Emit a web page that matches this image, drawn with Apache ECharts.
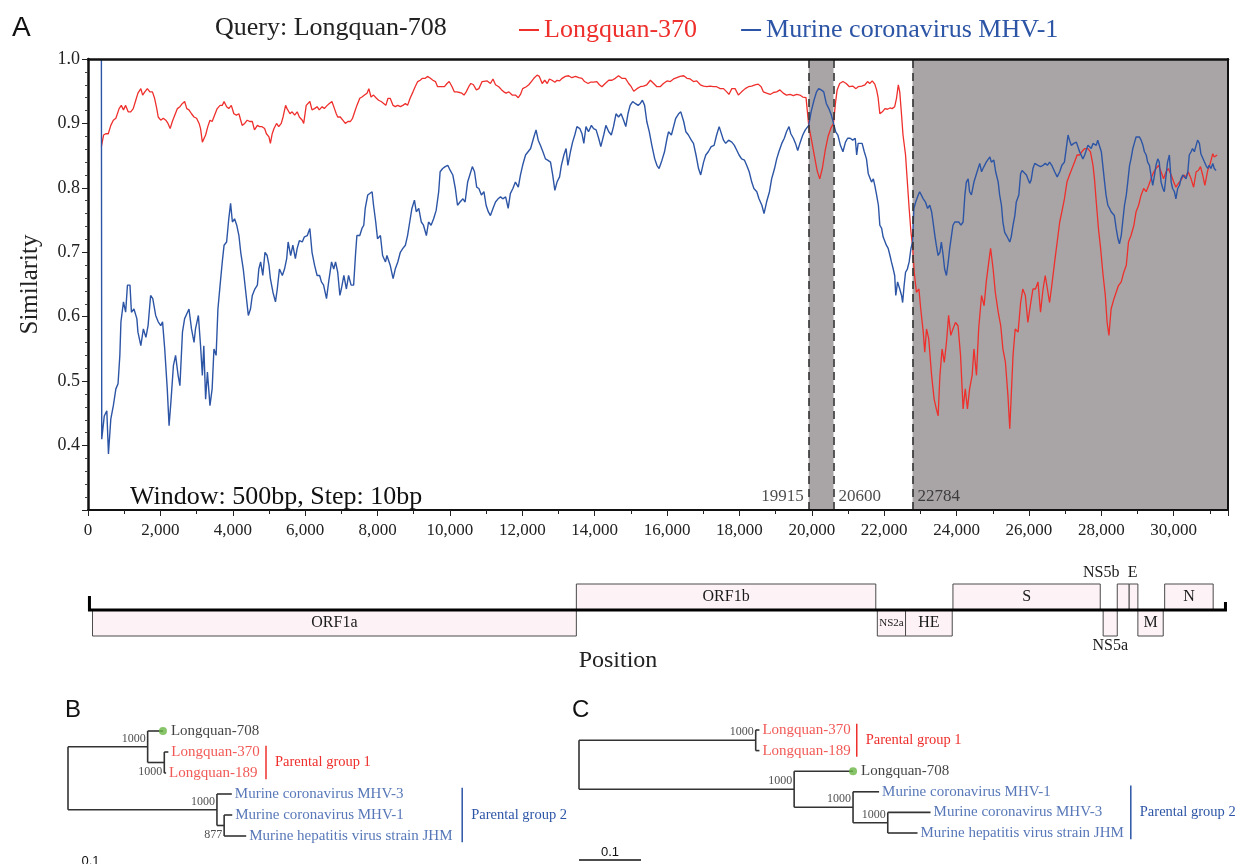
<!DOCTYPE html>
<html>
<head>
<meta charset="utf-8">
<script src="https://cdn.jsdelivr.net/npm/echarts@6/dist/echarts.min.js"></script>
<style>
  html, body { margin: 0; padding: 0; background: #fff; }
  #chart { width: 1237px; height: 864px; }
</style>
</head>
<body>
<div id="chart"></div>
<script>
// similarity traces: [position (bp), similarity]
const longquan370 = [
  [370,0.864],[430,0.882],[490,0.884],[560,0.884],[630,0.897],[700,0.905],[770,0.908],[860,0.923],[920,0.928],[980,0.921],
  [1040,0.928],[1110,0.918],[1180,0.918],[1250,0.923],[1320,0.936],[1380,0.947],[1460,0.954],[1510,0.944],[1570,0.949],[1640,0.954],
  [1710,0.949],[1780,0.949],[1840,0.939],[1900,0.923],[1940,0.91],[2010,0.905],[2080,0.908],[2150,0.905],[2210,0.9],[2270,0.892],
  [2330,0.903],[2400,0.913],[2470,0.923],[2540,0.926],[2610,0.931],[2670,0.934],[2730,0.923],[2790,0.921],[2860,0.915],[2930,0.91],
  [3000,0.908],[3070,0.9],[3110,0.892],[3160,0.871],[3200,0.869],[3250,0.882],[3310,0.895],[3370,0.905],[3430,0.903],[3500,0.913],
  [3570,0.923],[3650,0.928],[3710,0.928],[3760,0.934],[3830,0.926],[3890,0.923],[3960,0.928],[4030,0.915],[4100,0.913],[4170,0.915],
  [4220,0.905],[4260,0.897],[4330,0.9],[4400,0.905],[4470,0.903],[4540,0.903],[4600,0.89],[4680,0.897],[4740,0.895],[4810,0.895],
  [4880,0.892],[4930,0.884],[5000,0.879],[5040,0.869],[5090,0.884],[5140,0.892],[5210,0.9],[5270,0.895],[5340,0.9],[5390,0.91],
  [5460,0.928],[5500,0.923],[5580,0.915],[5640,0.918],[5710,0.913],[5780,0.918],[5840,0.91],[5920,0.905],[5960,0.9],[6030,0.928],
  [6080,0.931],[6130,0.934],[6190,0.921],[6260,0.923],[6330,0.926],[6390,0.921],[6470,0.926],[6530,0.923],[6610,0.928],[6670,0.931],
  [6740,0.934],[6810,0.923],[6860,0.915],[6900,0.91],[6970,0.91],[7040,0.905],[7110,0.9],[7180,0.903],[7250,0.903],[7310,0.908],
  [7370,0.918],[7430,0.928],[7510,0.939],[7570,0.941],[7640,0.944],[7710,0.947],[7760,0.954],[7820,0.941],[7890,0.944],[7970,0.939],
  [8030,0.936],[8100,0.934],[8170,0.931],[8230,0.928],[8290,0.939],[8350,0.939],[8430,0.928],[8490,0.926],[8560,0.928],[8630,0.926],
  [8700,0.928],[8770,0.931],[8830,0.928],[8900,0.939],[8980,0.949],[9040,0.957],[9110,0.965],[9180,0.967],[9240,0.97],[9320,0.97],
  [9380,0.973],[9460,0.97],[9530,0.967],[9600,0.965],[9660,0.957],[9710,0.954],[9780,0.957],[9850,0.957],[9920,0.962],[9980,0.965],
  [10060,0.957],[10120,0.949],[10190,0.949],[10270,0.948],[10330,0.947],[10390,0.944],[10450,0.949],[10520,0.957],[10580,0.962],[10650,0.96],
  [10730,0.952],[10800,0.954],[10890,0.965],[11030,0.966],[11120,0.962],[11190,0.969],[11260,0.96],[11350,0.957],[11430,0.952],[11490,0.949],
  [11550,0.947],[11630,0.949],[11720,0.944],[11810,0.944],[11890,0.94],[11950,0.945],[12010,0.954],[12110,0.957],[12180,0.96],[12250,0.965],
  [12320,0.97],[12410,0.975],[12470,0.973],[12550,0.962],[12620,0.967],[12690,0.962],[12750,0.969],[12820,0.967],[12900,0.964],[12960,0.967],
  [13030,0.966],[13100,0.97],[13190,0.973],[13280,0.974],[13370,0.971],[13470,0.973],[13560,0.971],[13650,0.97],[13720,0.965],[13820,0.962],
  [13880,0.964],[13970,0.964],[14060,0.965],[14130,0.96],[14200,0.957],[14290,0.962],[14390,0.967],[14480,0.967],[14570,0.97],[14660,0.974],
  [14750,0.97],[14850,0.97],[14940,0.962],[15010,0.957],[15080,0.95],[15170,0.954],[15260,0.957],[15350,0.958],[15440,0.96],[15540,0.967],
  [15630,0.962],[15720,0.957],[15810,0.957],[15900,0.962],[16000,0.966],[16090,0.965],[16180,0.969],[16270,0.971],[16360,0.973],[16460,0.974],
  [16550,0.97],[16640,0.969],[16730,0.965],[16820,0.966],[16920,0.96],[17010,0.958],[17100,0.957],[17190,0.958],[17280,0.957],[17370,0.957],
  [17470,0.954],[17560,0.954],[17650,0.949],[17710,0.945],[17790,0.954],[17880,0.954],[17970,0.944],[18060,0.949],[18160,0.954],[18250,0.957],
  [18340,0.958],[18430,0.96],[18520,0.961],[18600,0.957],[18660,0.949],[18750,0.947],[18850,0.945],[18940,0.948],[19030,0.949],[19120,0.952],
  [19210,0.947],[19300,0.944],[19400,0.945],[19490,0.943],[19580,0.945],[19670,0.944],[19750,0.941],[19840,0.94],[19915,0.897],[19990,0.875],
  [20070,0.85],[20150,0.826],[20220,0.814],[20290,0.83],[20370,0.858],[20450,0.88],[20530,0.893],[20600,0.9],[20650,0.93],[20700,0.952],
  [20770,0.962],[20860,0.965],[20950,0.962],[21040,0.957],[21130,0.958],[21220,0.954],[21280,0.957],[21380,0.958],[21470,0.96],[21540,0.965],
  [21600,0.962],[21670,0.966],[21740,0.961],[21790,0.952],[21830,0.941],[21880,0.915],[21950,0.918],[22020,0.923],[22090,0.922],[22160,0.924],
  [22220,0.923],[22290,0.926],[22340,0.939],[22390,0.96],[22430,0.949],[22480,0.913],[22520,0.882],[22590,0.851],[22640,0.809],[22690,0.768],
  [22740,0.731],[22784,0.71],[22830,0.669],[22890,0.638],[22960,0.643],[23010,0.612],[23080,0.576],[23120,0.545],[23170,0.581],[23230,0.566],
  [23310,0.509],[23380,0.472],[23440,0.457],[23490,0.446],[23540,0.509],[23600,0.55],[23660,0.529],[23720,0.56],[23780,0.602],[23840,0.571],
  [23900,0.581],[23970,0.591],[24040,0.586],[24110,0.54],[24180,0.457],[24240,0.488],[24300,0.457],[24360,0.488],[24430,0.509],[24480,0.55],
  [24550,0.509],[24610,0.581],[24690,0.633],[24760,0.617],[24820,0.654],[24890,0.685],[24940,0.706],[25010,0.674],[25070,0.638],[25150,0.607],
  [25220,0.586],[25280,0.55],[25350,0.529],[25420,0.477],[25470,0.426],[25510,0.477],[25560,0.54],[25620,0.581],[25700,0.576],[25770,0.622],
  [25830,0.643],[25900,0.633],[25970,0.591],[26050,0.622],[26110,0.643],[26180,0.643],[26250,0.654],[26320,0.607],[26390,0.643],[26450,0.664],
  [26510,0.643],[26570,0.622],[26630,0.648],[26710,0.685],[26780,0.716],[26850,0.747],[26910,0.763],[26980,0.783],[27050,0.809],[27120,0.82],
  [27190,0.83],[27260,0.84],[27330,0.851],[27400,0.851],[27460,0.856],[27540,0.861],[27630,0.861],[27700,0.856],[27770,0.835],[27810,0.814],
  [27860,0.778],[27920,0.737],[27980,0.706],[28040,0.669],[28110,0.633],[28160,0.591],[28210,0.571],[28270,0.612],[28350,0.628],[28410,0.638],
  [28470,0.648],[28550,0.654],[28620,0.669],[28690,0.68],[28750,0.716],[28820,0.726],[28900,0.742],[28960,0.763],[29030,0.773],[29100,0.789],
  [29170,0.799],[29240,0.794],[29310,0.804],[29370,0.814],[29450,0.825],[29510,0.83],[29580,0.835],[29650,0.825],[29720,0.814],[29790,0.825],
  [29850,0.83],[29930,0.82],[30000,0.809],[30060,0.801],[30130,0.807],[30200,0.812],[30280,0.82],[30340,0.817],[30400,0.825],[30480,0.814],
  [30550,0.801],[30620,0.825],[30680,0.827],[30740,0.833],[30800,0.82],[30860,0.804],[30940,0.827],[31010,0.838],[31080,0.853],[31120,0.848],
  [31200,0.851]
];

const mhv1 = [
  [370,1.0],[380,0.41],[400,0.407],[450,0.446],[520,0.454],[565,0.387],[630,0.441],[700,0.462],[770,0.488],[830,0.496],
  [880,0.54],[910,0.592],[980,0.623],[1040,0.607],[1090,0.649],[1160,0.649],[1200,0.607],[1270,0.612],[1350,0.597],[1380,0.576],
  [1460,0.555],[1530,0.581],[1600,0.568],[1660,0.586],[1730,0.633],[1790,0.628],[1870,0.602],[1940,0.592],[2010,0.586],[2060,0.592],
  [2120,0.55],[2190,0.488],[2240,0.431],[2290,0.467],[2360,0.524],[2420,0.54],[2490,0.509],[2540,0.493],[2610,0.576],[2670,0.597],
  [2750,0.607],[2790,0.612],[2860,0.581],[2930,0.56],[2970,0.581],[3050,0.602],[3110,0.555],[3160,0.509],[3200,0.555],[3250,0.472],
  [3300,0.514],[3370,0.462],[3430,0.488],[3480,0.55],[3540,0.54],[3590,0.612],[3650,0.649],[3710,0.685],[3760,0.711],[3830,0.716],
  [3890,0.752],[3940,0.776],[3990,0.747],[4050,0.752],[4110,0.742],[4170,0.726],[4220,0.7],[4290,0.674],[4350,0.643],[4430,0.602],
  [4490,0.612],[4540,0.633],[4610,0.643],[4680,0.649],[4720,0.674],[4770,0.685],[4830,0.664],[4890,0.7],[4950,0.695],[5000,0.68],
  [5040,0.659],[5110,0.638],[5180,0.623],[5230,0.643],[5290,0.674],[5370,0.664],[5430,0.674],[5490,0.69],[5530,0.716],[5600,0.695],
  [5660,0.711],[5730,0.69],[5780,0.706],[5840,0.718],[5920,0.716],[5980,0.724],[6060,0.726],[6130,0.737],[6190,0.7],[6260,0.68],
  [6330,0.664],[6400,0.664],[6450,0.654],[6510,0.649],[6590,0.628],[6650,0.654],[6730,0.685],[6790,0.674],[6840,0.685],[6900,0.669],
  [6960,0.633],[7000,0.643],[7070,0.664],[7140,0.643],[7200,0.664],[7270,0.649],[7340,0.649],[7390,0.695],[7430,0.726],[7510,0.726],
  [7570,0.737],[7620,0.742],[7660,0.768],[7730,0.789],[7780,0.789],[7850,0.794],[7890,0.773],[7950,0.747],[8000,0.721],[8080,0.726],
  [8140,0.695],[8220,0.685],[8260,0.695],[8350,0.68],[8430,0.659],[8490,0.674],[8560,0.685],[8630,0.7],[8700,0.706],[8770,0.711],
  [8830,0.726],[8890,0.747],[8950,0.768],[9020,0.781],[9070,0.763],[9140,0.768],[9210,0.747],[9270,0.742],[9350,0.726],[9410,0.747],
  [9480,0.742],[9550,0.752],[9620,0.765],[9690,0.794],[9730,0.825],[9800,0.83],[9870,0.833],[9940,0.835],[10010,0.827],[10080,0.82],
  [10150,0.799],[10210,0.773],[10280,0.778],[10360,0.783],[10420,0.778],[10490,0.809],[10550,0.82],[10620,0.833],[10680,0.825],[10740,0.801],
  [10800,0.799],[10870,0.789],[10940,0.794],[11000,0.773],[11060,0.763],[11120,0.757],[11190,0.768],[11260,0.778],[11330,0.783],[11400,0.786],
  [11460,0.783],[11540,0.786],[11610,0.768],[11670,0.791],[11740,0.799],[11810,0.809],[11890,0.801],[11950,0.82],[12010,0.835],[12090,0.851],
  [12160,0.856],[12230,0.861],[12320,0.879],[12380,0.89],[12440,0.874],[12500,0.866],[12570,0.856],[12640,0.845],[12700,0.843],[12780,0.84],
  [12840,0.82],[12900,0.796],[12960,0.809],[13030,0.817],[13080,0.835],[13150,0.851],[13210,0.861],[13260,0.835],[13330,0.856],[13390,0.871],
  [13450,0.882],[13510,0.895],[13590,0.892],[13650,0.884],[13700,0.869],[13760,0.895],[13830,0.887],[13910,0.897],[13970,0.892],[14040,0.89],
  [14110,0.877],[14170,0.864],[14250,0.882],[14310,0.897],[14390,0.887],[14460,0.882],[14520,0.895],[14590,0.915],[14660,0.91],[14730,0.915],
  [14800,0.905],[14860,0.895],[14920,0.915],[14980,0.928],[15050,0.934],[15120,0.931],[15200,0.928],[15260,0.931],[15320,0.936],[15380,0.928],
  [15440,0.903],[15510,0.887],[15580,0.866],[15660,0.845],[15720,0.835],[15780,0.83],[15860,0.843],[15930,0.856],[16000,0.877],[16040,0.887],
  [16120,0.882],[16180,0.895],[16240,0.908],[16320,0.915],[16380,0.918],[16460,0.903],[16520,0.887],[16590,0.882],[16670,0.874],[16730,0.869],
  [16800,0.851],[16870,0.83],[16930,0.82],[17010,0.84],[17070,0.851],[17140,0.856],[17220,0.864],[17300,0.866],[17370,0.882],[17440,0.895],
  [17490,0.895],[17560,0.874],[17620,0.869],[17700,0.874],[17790,0.871],[17860,0.866],[17930,0.858],[17990,0.851],[18060,0.845],[18140,0.843],
  [18200,0.835],[18270,0.825],[18340,0.809],[18400,0.799],[18480,0.794],[18540,0.783],[18620,0.773],[18680,0.76],[18750,0.778],[18830,0.794],
  [18890,0.814],[18970,0.83],[19030,0.845],[19090,0.856],[19170,0.869],[19240,0.877],[19300,0.887],[19370,0.895],[19420,0.884],[19490,0.877],
  [19550,0.869],[19610,0.858],[19670,0.869],[19750,0.882],[19820,0.89],[19915,0.897],[19980,0.918],[20060,0.936],[20130,0.949],[20190,0.954],
  [20260,0.952],[20330,0.949],[20400,0.931],[20470,0.923],[20540,0.913],[20600,0.9],[20660,0.887],[20720,0.882],[20790,0.866],[20860,0.856],
  [20930,0.871],[20990,0.877],[21060,0.877],[21130,0.874],[21200,0.877],[21240,0.851],[21280,0.869],[21330,0.866],[21390,0.869],[21450,0.856],
  [21510,0.845],[21560,0.822],[21610,0.82],[21650,0.809],[21700,0.814],[21740,0.804],[21790,0.789],[21840,0.773],[21880,0.742],[21930,0.737],
  [21970,0.724],[22020,0.726],[22060,0.711],[22110,0.706],[22160,0.695],[22200,0.685],[22250,0.674],[22290,0.664],[22320,0.633],[22370,0.654],
  [22400,0.654],[22430,0.643],[22480,0.633],[22510,0.622],[22550,0.648],[22590,0.669],[22640,0.674],[22690,0.685],[22740,0.706],[22784,0.716],
  [22820,0.768],[22870,0.778],[22940,0.789],[22980,0.794],[23030,0.796],[23080,0.783],[23140,0.778],[23200,0.768],[23260,0.773],[23310,0.763],
  [23350,0.747],[23400,0.726],[23440,0.711],[23490,0.695],[23540,0.7],[23580,0.716],[23630,0.695],[23670,0.674],[23720,0.664],[23770,0.685],
  [23810,0.706],[23860,0.726],[23900,0.742],[23950,0.747],[24000,0.744],[24060,0.747],[24120,0.742],[24180,0.747],[24230,0.789],[24270,0.809],
  [24320,0.814],[24360,0.794],[24410,0.789],[24480,0.809],[24550,0.822],[24590,0.825],[24640,0.838],[24690,0.825],[24730,0.83],[24780,0.83],
  [24820,0.84],[24870,0.838],[24920,0.848],[24960,0.84],[25030,0.843],[25080,0.825],[25150,0.809],[25190,0.789],[25240,0.773],[25280,0.747],
  [25330,0.731],[25380,0.726],[25420,0.724],[25470,0.716],[25510,0.724],[25560,0.742],[25610,0.757],[25650,0.778],[25720,0.789],[25770,0.822],
  [25810,0.827],[25860,0.825],[25930,0.82],[25970,0.814],[26020,0.807],[26060,0.812],[26110,0.83],[26160,0.838],[26200,0.84],[26250,0.835],
  [26320,0.833],[26390,0.835],[26450,0.838],[26510,0.835],[26570,0.84],[26630,0.835],[26710,0.825],[26780,0.817],[26850,0.825],[26910,0.835],
  [26980,0.84],[27030,0.861],[27080,0.882],[27120,0.874],[27170,0.866],[27240,0.869],[27310,0.871],[27350,0.869],[27400,0.856],[27440,0.856],
  [27490,0.845],[27540,0.851],[27580,0.858],[27630,0.866],[27670,0.869],[27720,0.861],[27770,0.869],[27810,0.871],[27860,0.866],[27900,0.874],
  [27950,0.871],[28000,0.856],[28040,0.835],[28090,0.809],[28130,0.789],[28180,0.773],[28230,0.768],[28270,0.763],[28320,0.763],[28360,0.757],
  [28410,0.737],[28460,0.721],[28500,0.713],[28550,0.726],[28590,0.747],[28640,0.773],[28690,0.789],[28730,0.809],[28780,0.835],[28820,0.845],
  [28870,0.861],[28920,0.871],[28960,0.879],[29010,0.882],[29050,0.879],[29100,0.874],[29150,0.866],[29190,0.856],[29240,0.851],[29280,0.84],
  [29330,0.835],[29370,0.82],[29420,0.804],[29470,0.82],[29510,0.835],[29560,0.845],[29600,0.84],[29650,0.809],[29700,0.799],[29740,0.794],
  [29790,0.82],[29830,0.84],[29880,0.851],[29930,0.809],[29970,0.799],[30020,0.794],[30060,0.783],[30110,0.799],[30160,0.804],[30200,0.814],
  [30250,0.82],[30290,0.817],[30340,0.814],[30390,0.825],[30430,0.851],[30480,0.856],[30520,0.861],[30570,0.856],[30620,0.866],[30660,0.874],
  [30710,0.869],[30750,0.853],[30800,0.856],[30850,0.84],[30890,0.835],[30940,0.83],[30980,0.835],[31030,0.83],[31080,0.838],[31120,0.83],
  [31170,0.827]
];

// recombination breakpoints (bp)
const breakpoints = [19915, 20600, 22784];
const shadedRegions = [[19915, 20600], [22784, 31500]];

// genome map (bp): name, start, end, strand lane (1 = above backbone, -1 = below)
const geneNames = ['ORF1a', 'ORF1b', 'NS2a', 'HE', 'S', 'NS5a', 'NS5b', 'E', 'M', 'N'];
const geneStart = [124, 13494, 21810, 22590, 23900, 28050, 28440, 28770, 29010, 29750];
const geneEnd = [13494, 21768, 22590, 23880, 27970, 28440, 28770, 29010, 29710, 31090];
const geneLane = [-1, 1, -1, -1, 1, -1, 1, 1, -1, 1];
const genomeSpan = [40, 31430];

// tree B (whole genome): node name, parent index, branch length, bootstrap
const treeBNodes = ['root', 'b1', 'Longquan-708', 'b2', 'Longquan-370', 'Longquan-189', 'b3',
  'Murine coronavirus MHV-3', 'b4', 'Murine coronavirus MHV-1', 'Murine hepatitis virus strain JHM'];
const treeBParent = [-1, 0, 1, 1, 3, 3, 0, 6, 6, 8, 8];
const treeBLength = [0, 0.177, 0.034, 0.037, 0.009, 0.004, 0.331, 0.033, 0.016, 0.018, 0.049];
const treeBSupport = [null, 1000, null, 1000, null, null, 1000, null, 877, null, null];

// tree C (recombinant region)
const treeCNodes = ['root', 'c1', 'Longquan-370', 'Longquan-189', 'c2', 'Longquan-708', 'c3',
  'Murine coronavirus MHV-1', 'c4', 'Murine coronavirus MHV-3', 'Murine hepatitis virus strain JHM'];
const treeCParent = [-1, 0, 1, 1, 0, 4, 4, 6, 6, 8, 8];
const treeCLength = [0, 0.285, 0.006, 0.006, 0.347, 0.095, 0.095, 0.042, 0.056, 0.069, 0.048];
const treeCSupport = [null, 1000, null, null, 1000, null, 1000, null, 1000, null, null];

const parentalGroups = ['Parental group 1', 'Parental group 2'];
const groupMembers = [
  ['Longquan-370', 'Longquan-189'],
  ['Murine coronavirus MHV-3', 'Murine coronavirus MHV-1', 'Murine hepatitis virus strain JHM']
];
const queryName = 'Longquan-708';
const scaleBar = 0.1;

const RED = '#ee2f2c';
const BLUE = '#2d55a6';
const SERIF = '"Liberation Serif", "Times New Roman", serif';
const SANS = '"Liberation Sans", Arial, sans-serif';
const groupColor = [RED, BLUE];

function layoutTree(names, parent, length) {
  const kids = names.map(() => []);
  parent.forEach((p, i) => { if (p >= 0) kids[p].push(i); });
  const x = [], y = [];
  let rank = 0;
  (function walk(i, px) {
    x[i] = px + length[i];
    if (!kids[i].length) { y[i] = rank++; return; }
    kids[i].forEach((k) => walk(k, x[i]));
    y[i] = (y[kids[i][0]] + y[kids[i][kids[i].length - 1]]) / 2;
  })(0, 0);
  const segs = [];
  names.forEach((n, i) => {
    if (parent[i] >= 0) segs.push([x[parent[i]], y[i], x[i], y[i]]);
    if (kids[i].length) segs.push([x[i], y[kids[i][0]], x[i], y[kids[i][kids[i].length - 1]]]);
  });
  return { x, y, kids, segs };
}

function leafColor(name) {
  for (let g = 0; g < groupMembers.length; g++) {
    if (groupMembers[g].includes(name)) return groupColor[g];
  }
  return '#111';
}

function treeSeries(names, parent, length, support, axis, opts) {
  const t = layoutTree(names, parent, length);
  const leaves = [], inner = [];
  names.forEach((n, i) => {
    if (!t.kids[i].length) {
      const isQuery = n === queryName;
      leaves.push({
        value: [t.x[i], t.y[i]], name: n,
        symbol: 'circle', symbolSize: isQuery ? 8 : 0,
        itemStyle: { color: '#6ab545' },
        label: { color: leafColor(n), distance: isQuery ? 4 : 3 }
      });
    } else if (support[i] != null) {
      const below = (opts.supportBelow || []).includes(n);
      inner.push({ value: [t.x[i], t.y[i]], name: String(support[i]), label: { offset: [0, below ? 9 : -8] } });
    }
  });
  const groups = groupMembers.map((m, g) => {
    const ys = m.map((n) => t.y[names.indexOf(n)]);
    return [opts.bracketX[g], Math.min(...ys) - 0.3, Math.max(...ys) + 0.3, g];
  });
  const common = { xAxisIndex: axis, yAxisIndex: axis, silent: true, animation: false };
  return [
    Object.assign({
      type: 'custom', data: t.segs,
      renderItem: (p, api) => {
        const a = api.coord([api.value(0), api.value(1)]);
        const b = api.coord([api.value(2), api.value(3)]);
        return { type: 'line', shape: { x1: a[0], y1: a[1], x2: b[0], y2: b[1] },
          style: { stroke: '#333', lineWidth: 1.6 } };
      }
    }, common),
    Object.assign({
      type: 'scatter', data: leaves, z: 4,
      label: { show: true, position: 'right', formatter: '{b}', fontFamily: SERIF, fontSize: 15 }
    }, common),
    Object.assign({
      type: 'scatter', data: inner, symbolSize: 0,
      label: { show: true, position: 'left', distance: 2, formatter: '{b}', fontFamily: SERIF, fontSize: 12, color: '#222' }
    }, common),
    Object.assign({
      type: 'custom', data: groups,
      renderItem: (p, api) => {
        const a = api.coord([api.value(0), api.value(1)]);
        const b = api.coord([api.value(0), api.value(2)]);
        const col = groupColor[api.value(3)];
        return { type: 'group', children: [
          { type: 'line', shape: { x1: a[0], y1: a[1], x2: b[0], y2: b[1] }, style: { stroke: col, lineWidth: 1.5 } },
          { type: 'text', style: { text: parentalGroups[api.value(3)], x: a[0] + 9, y: (a[1] + b[1]) / 2,
            align: 'left', verticalAlign: 'middle', font: '14.5px ' + SERIF, fill: col } }
        ] };
      }
    }, common),
    Object.assign({
      type: 'custom', data: [[0, scaleBar, opts.scaleY]],
      renderItem: (p, api) => {
        const a = api.coord([api.value(0), api.value(2)]);
        const b = api.coord([api.value(1), api.value(2)]);
        return { type: 'group', children: [
          { type: 'line', shape: { x1: a[0], y1: a[1], x2: b[0], y2: b[1] }, style: { stroke: '#111', lineWidth: 1.5 } },
          { type: 'text', style: { text: String(scaleBar), x: (a[0] + b[0]) / 2, y: a[1] - 8,
            align: 'center', verticalAlign: 'middle', font: '13px ' + SANS, fill: '#111' } }
        ] };
      }
    }, common)
  ];
}

const genePlace = { NS2a: { fs: 11 }, NS5a: { pos: 'below' }, NS5b: { pos: 'above', dx: -22 }, E: { pos: 'above', dx: -1 } };

const chart = echarts.init(document.getElementById('chart'), null, { renderer: 'canvas' });

const hiddenAxis = (grid, min, max, inverse) => ({
  type: 'value', gridIndex: grid, min: min, max: max, inverse: !!inverse, show: false
});

const option = {
  animation: false,
  backgroundColor: '#fff',
  grid: [
    { left: 88, top: 59, width: 1140, height: 451 },
    { left: 88, top: 584, width: 1140, height: 52 },
    { left: 68, top: 731, width: 450, height: 105 },
    { left: 579, top: 730, width: 620, height: 103 }
  ],
  legend: {
    left: 514, top: 12, itemWidth: 20, itemHeight: 2, itemGap: 44, icon: 'rect', selectedMode: false,
    textStyle: { fontFamily: SERIF, fontSize: 26 },
    data: [
      { name: 'Longquan-370', textStyle: { color: RED } },
      { name: 'Murine coronavirus MHV-1', textStyle: { color: BLUE } }
    ]
  },
  xAxis: [
    {
      type: 'value', gridIndex: 0, min: 0, max: 31500, interval: 2000, z: 5,
      axisLine: { lineStyle: { color: '#111', width: 2 } },
      axisTick: { length: 6, lineStyle: { color: '#222', width: 1 } },
      minorTick: { show: true, splitNumber: 2, length: 4, lineStyle: { color: '#222' } },
      splitLine: { show: false },
      axisLabel: { showMaxLabel: false, margin: 12, fontFamily: SERIF, fontSize: 17, color: '#222',
        formatter: (v) => v.toLocaleString('en-US') }
    },
    {
      type: 'value', gridIndex: 0, min: 0, max: 31500, position: 'top', z: 5,
      axisLine: { onZero: false, lineStyle: { color: '#111', width: 2.5 } },
      axisTick: { show: false }, axisLabel: { show: false }, splitLine: { show: false }
    },
    hiddenAxis(1, 0, 31500),
    hiddenAxis(2, 0, 1),
    hiddenAxis(3, 0, 1)
  ],
  yAxis: [
    {
      type: 'value', gridIndex: 0, min: 0.3, max: 1.0, interval: 0.1, z: 5,
      name: 'Similarity', nameLocation: 'middle', nameGap: 45,
      nameTextStyle: { fontFamily: SERIF, fontSize: 25, color: '#222' },
      axisLine: { lineStyle: { color: '#111', width: 2.5 } },
      axisTick: { length: 6, lineStyle: { color: '#222' } },
      minorTick: { show: true, splitNumber: 5, length: 3, lineStyle: { color: '#444' } },
      splitLine: { show: false },
      axisLabel: { showMinLabel: false, margin: 8, fontFamily: SERIF, fontSize: 18, color: '#222',
        formatter: (v) => v.toFixed(1) }
    },
    {
      type: 'value', gridIndex: 0, min: 0.3, max: 1.0, position: 'right', z: 5,
      axisLine: { onZero: false, lineStyle: { color: '#111', width: 2 } },
      axisTick: { show: false }, axisLabel: { show: false }, splitLine: { show: false }
    },
    hiddenAxis(1, -1, 1),
    hiddenAxis(2, 0, 5, true),
    hiddenAxis(3, 0, 5, true)
  ],
  graphic: [
    { type: 'text', x: 12, y: 28, style: { text: 'A', font: '28px ' + SANS, fill: '#111', verticalAlign: 'middle' } },
    { type: 'text', x: 215, y: 28, style: { text: 'Query: ' + queryName, font: '26px ' + SERIF, fill: '#222', verticalAlign: 'middle' } },
    { type: 'text', x: 130, y: 497, z: 10, style: { text: 'Window: 500bp, Step: 10bp', font: '26px ' + SERIF, fill: '#111', verticalAlign: 'middle' } },
    { type: 'text', x: 618, y: 661, style: { text: 'Position', font: '24px ' + SERIF, fill: '#222', align: 'center', verticalAlign: 'middle' } },
    { type: 'text', x: 65, y: 710, style: { text: 'B', font: '24px ' + SANS, fill: '#111', verticalAlign: 'middle' } },
    { type: 'text', x: 572, y: 710, style: { text: 'C', font: '24px ' + SANS, fill: '#111', verticalAlign: 'middle' } }
  ],
  series: [
    {
      type: 'line', name: 'shade', xAxisIndex: 0, yAxisIndex: 0, data: [], z: 1, silent: true,
      markArea: {
        silent: true, itemStyle: { color: '#a9a5a6' },
        data: shadedRegions.map((r) => [{ xAxis: r[0] }, { xAxis: r[1] }])
      },
      markLine: {
        silent: true, symbol: 'none', label: { show: false },
        lineStyle: { color: '#333', width: 1.6, type: [8, 5] },
        data: breakpoints.map((b) => ({ xAxis: b }))
      }
    },
    {
      type: 'line', name: 'Longquan-370', xAxisIndex: 0, yAxisIndex: 0, data: longquan370, z: 3,
      showSymbol: false, symbol: 'none', color: RED, lineStyle: { color: RED, width: 1.3 }
    },
    {
      type: 'line', name: 'Murine coronavirus MHV-1', xAxisIndex: 0, yAxisIndex: 0, data: mhv1, z: 4,
      showSymbol: false, symbol: 'none', color: BLUE, lineStyle: { color: BLUE, width: 1.4 }
    },
    {
      type: 'scatter', xAxisIndex: 0, yAxisIndex: 0, symbolSize: 0, z: 6, silent: true,
      data: breakpoints.map((b, i) => ({
        value: [b, 0.3], name: String(b),
        label: { position: i === 0 ? 'left' : 'right' }
      })),
      label: { show: true, formatter: '{b}', distance: 5, offset: [0, -13], fontFamily: SERIF, fontSize: 17, color: '#222' }
    },
    {
      type: 'custom', xAxisIndex: 2, yAxisIndex: 2, silent: true,
      data: geneNames.map((n, i) => [geneStart[i], geneEnd[i], geneLane[i]]),
      renderItem: (params, api) => {
        const name = geneNames[params.dataIndex];
        const lane = api.value(2);
        const a = api.coord([api.value(0), lane > 0 ? 1 : 0]);
        const b = api.coord([api.value(1), lane > 0 ? 0 : -1]);
        const pl = genePlace[name] || {};
        let ty = (a[1] + b[1]) / 2;
        if (pl.pos === 'above') ty = a[1] - 11;
        if (pl.pos === 'below') ty = b[1] + 10;
        return { type: 'group', children: [
          { type: 'rect', shape: { x: a[0], y: a[1], width: b[0] - a[0], height: b[1] - a[1] },
            style: { fill: '#fdf2f5', stroke: '#4a4a4a', lineWidth: 1 } },
          { type: 'text', style: { text: name, x: (a[0] + b[0]) / 2 + (pl.dx || 0), y: ty,
            align: 'center', verticalAlign: 'middle', font: (pl.fs || 16) + 'px ' + SERIF, fill: '#1a1a1a' } }
        ] };
      }
    },
    {
      type: 'custom', xAxisIndex: 2, yAxisIndex: 2, silent: true, z: 3,
      data: [genomeSpan],
      renderItem: (params, api) => {
        const a = api.coord([api.value(0), 0]);
        const b = api.coord([api.value(1), 0]);
        return { type: 'polyline',
          shape: { points: [[a[0], a[1] - 14], [a[0], a[1]], [b[0], b[1]], [b[0], b[1] - 8]] },
          style: { stroke: '#000', lineWidth: 3, fill: null } };
      }
    },
    ...treeSeries(treeBNodes, treeBParent, treeBLength, treeBSupport, 3,
      { bracketX: [0.44, 0.876], scaleY: 6.57, supportBelow: ['b2', 'b4'] }),
    ...treeSeries(treeCNodes, treeCParent, treeCLength, treeCSupport, 4,
      { bracketX: [0.448, 0.89], scaleY: 6.31 })
  ]
};

chart.setOption(option);
</script>
</body>
</html>
